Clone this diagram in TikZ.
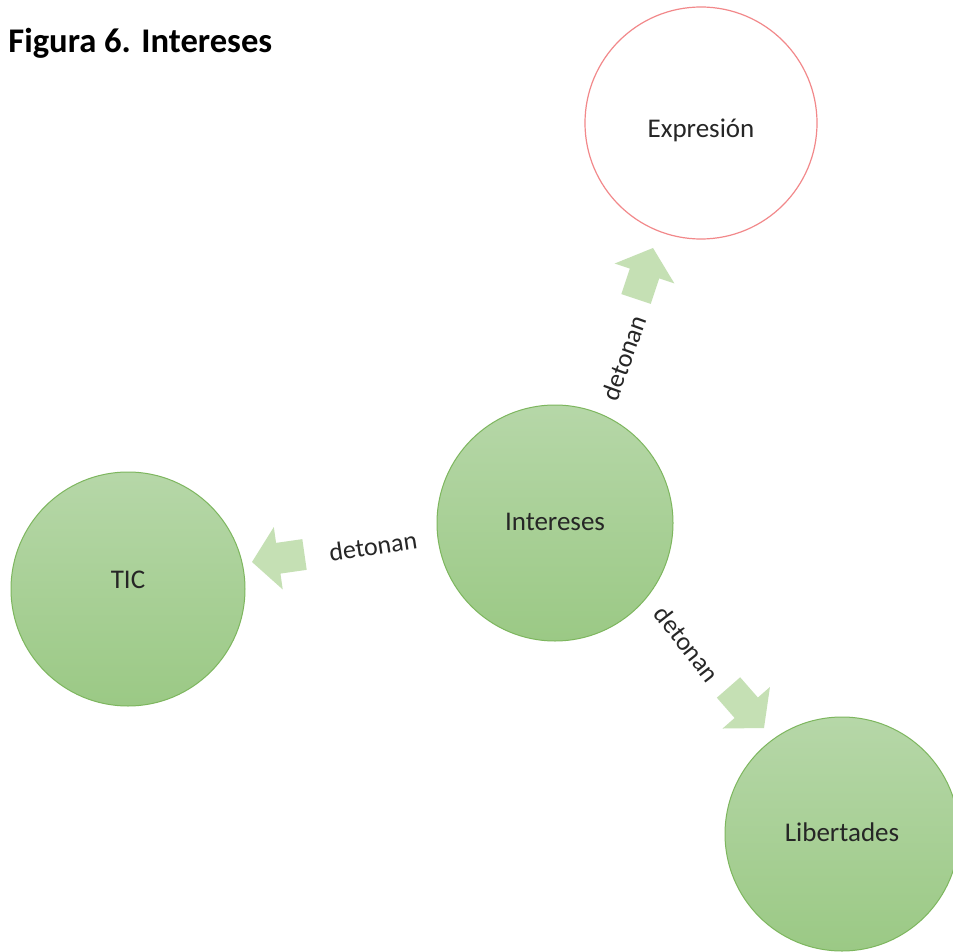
\documentclass[tikz,border=0pt]{standalone}
\usepackage{fontspec}
\setmainfont{Carlito}
\usetikzlibrary{calc}
\definecolor{ballTop}{HTML}{B6D7A8}
\definecolor{ballBot}{HTML}{9BC985}
\definecolor{ballEdge}{HTML}{7DB65E}
\definecolor{arrowGreen}{HTML}{C5E0B4}
\definecolor{softRed}{HTML}{F2888A}
\tikzset{
  ball/.style={circle, draw=ballEdge, line width=0.5pt, top color=ballTop, bottom color=ballBot,
    inner sep=0pt, font=\fontsize{13.5}{16}\selectfont, text=black!85,
    text height=10pt, text depth=3pt},
  ring/.style={circle, draw=softRed, line width=0.6pt, fill=white,
    inner sep=0pt, font=\fontsize{13.5}{16}\selectfont, text=black!85},
  verb/.style={font=\fontsize{13}{15}\selectfont, text=black!85, inner sep=1pt},
  arrowfill/.style={fill=arrowGreen}
}
% block arrow pointing from coordinate #1 (tail) to coordinate #2 (tip)
\newcommand\detarrow[2]{%
  \coordinate (#2-neck) at ($(#2)!0.5!(#1)$);
  \fill[arrowfill] (#2)
    -- ($(#2-neck)!15.75pt!90:(#2)$)
    -- ($(#2-neck)!7.75pt!90:(#2)$)
    -- ($(#1)!7.75pt!90:(#2)$)
    -- ($(#1)!7.75pt!-90:(#2)$)
    -- ($(#2-neck)!7.75pt!-90:(#2)$)
    -- ($(#2-neck)!15.75pt!-90:(#2)$)
    -- cycle;
}
\begin{document}
\begin{tikzpicture}[x=0.5pt, y=-0.5pt]
  \useasboundingbox[fill=white] (0,0) rectangle (953,952);

  \node[anchor=west, inner sep=0pt, font=\bfseries\fontsize{17.3}{20}\selectfont] (title) at (8,43) {Figura 6. Intereses};

  \node[ball, minimum size=118pt] (int) at (555,523) {Intereses};
  \node[ball, minimum size=117pt, text height=10pt, text depth=11pt] (tic) at (128,589) {TIC};
  \node[ring, minimum size=116pt, text height=18pt, text depth=3pt] (exp) at (701,123) {Expresión};
  \node[ball, minimum size=117pt] (lib) at (842,834) {Libertades};

  % arrow ends
  \coordinate (exp-tail) at (636,299);
  \coordinate (exp-tip)  at (653,248);
  \coordinate (tic-tail) at (304.5,554.5);
  \coordinate (tic-tip)  at (252,562);
  \coordinate (lib-tail) at (728.5,687.5);
  \coordinate (lib-tip)  at (764,728);

  \detarrow{exp-tail}{exp-tip}
  \detarrow{tic-tail}{tic-tip}
  \detarrow{lib-tail}{lib-tip}

  \node[verb, rotate=70] (v1) at (624,358) {detonan};
  \node[verb, rotate=8.5] (v2) at (373,546) {detonan};
  \node[verb, rotate=-52] (v3) at (687,644) {detonan};
\end{tikzpicture}
\end{document}
